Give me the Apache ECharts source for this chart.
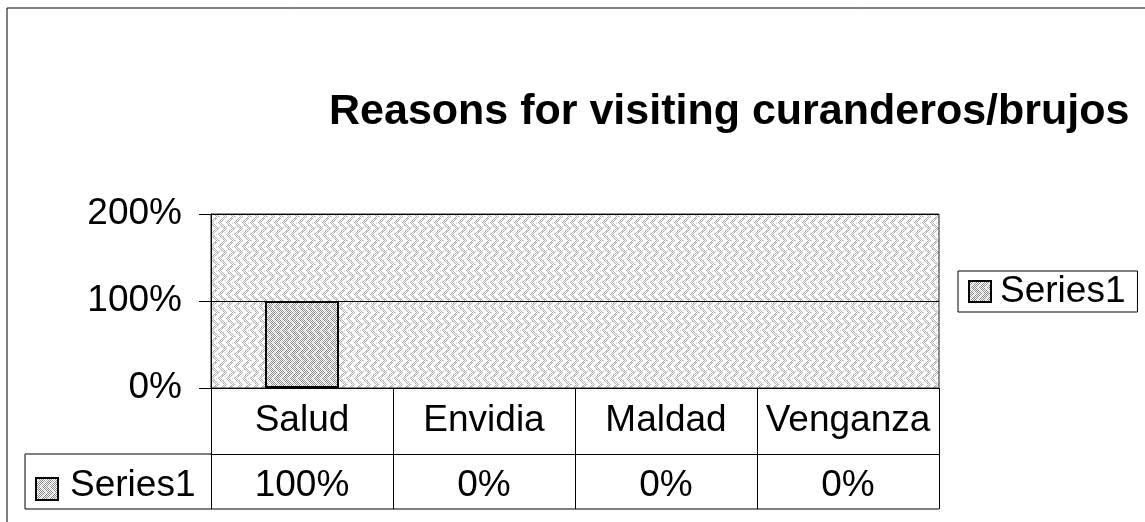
<!DOCTYPE html>
<html>
<head>
<meta charset="utf-8">
<script src="https://cdn.jsdelivr.net/npm/echarts@6/dist/echarts.min.js"></script>
<style>
html,body{margin:0;padding:0;background:#fff;}
#chart{width:1145px;height:522px;}
</style>
</head>
<body>
<div id="chart"></div>
<script>
// ---- data ----
const categories = ['Salud', 'Envidia', 'Maldad', 'Venganza'];
const series1 = [1.00, 0, 0, 0];
const seriesName = 'Series1';
const titleText = 'Reasons for visiting curanderos/brujos';
const yMin = 0, yMax = 2, yInterval = 1;

// ---- layout constants ----
const W = 1145, H = 522;
const gLeft = 211, gRight = 939, gTop = 214, gBottom = 388;
const rowH1 = 66, rowH2 = 55;
const FONT = 'Liberation Sans, Arial, sans-serif';
const LABEL_SIZE = 37;

function pct(v) { return Math.round(v * 100) + '%'; }

function makePattern(dense) {
  const c = document.createElement('canvas');
  const tw = 16, th = 24;
  c.width = tw; c.height = th;
  const ctx = c.getContext('2d');
  ctx.fillStyle = '#ffffff';
  ctx.fillRect(0, 0, tw, th);
  for (let y = 0; y < th; y++) {
    const t = y % 12;
    const shift = t < 6 ? t : 12 - t;
    for (let x = 0; x < tw; x++) {
      const xx = (x + shift) % 8;
      const inBand = dense ? (xx < 5) : (xx < 3);
      const chk = (x + y) % 2 === 0;
      if (inBand && chk) {
        ctx.fillStyle = dense ? '#8a8a8a' : '#b0b0b0';
        ctx.fillRect(x, y, 1, 1);
      } else if (dense && !inBand && chk) {
        ctx.fillStyle = '#d6d6d6';
        ctx.fillRect(x, y, 1, 1);
      } else if (!dense && ((x * 7 + y * 3) % 11 === 0)) {
        ctx.fillStyle = '#cccccc';
        ctx.fillRect(x, y, 1, 1);
      }
    }
  }
  return c;
}
const bgPattern = { image: makePattern(false), repeat: 'repeat' };
const barPattern = { image: makePattern(true), repeat: 'repeat' };

const chart = echarts.init(document.getElementById('chart'), null, { renderer: 'canvas' });

const option = {
  animation: false,
  backgroundColor: '#ffffff',
  textStyle: { fontFamily: FONT },
  title: {
    text: titleText,
    left: 324,
    top: 86,
    textStyle: { fontFamily: FONT, fontSize: 43, fontWeight: 'bold', color: '#000' }
  },
  legend: {
    data: [seriesName],
    orient: 'vertical',
    left: 958,
    top: 271,
    borderColor: '#000',
    borderWidth: 1,
    padding: [2, 12, 2, 10],
    itemWidth: 22,
    itemHeight: 21,
    itemGap: 0,
    textStyle: { fontFamily: FONT, fontSize: LABEL_SIZE, color: '#000', padding: [3, 0, 0, 4] },
    icon: 'rect'
  },
  grid: {
    left: gLeft,
    top: gTop,
    width: gRight - gLeft,
    height: gBottom - gTop,
    show: true,
    backgroundColor: bgPattern,
    borderColor: '#222',
    borderWidth: 1
  },
  xAxis: [
    {
      type: 'category',
      data: categories,
      position: 'bottom',
      boundaryGap: true,
      axisLine: { show: true, lineStyle: { color: '#000', width: 1 } },
      axisTick: { show: true, interval: 0, length: rowH1 + rowH2, lineStyle: { color: '#000', width: 1 } },
      axisLabel: { interval: 0, margin: 14, fontFamily: FONT, fontSize: LABEL_SIZE, color: '#000' },
      splitLine: { show: false }
    },
    {
      type: 'category',
      data: categories,
      position: 'bottom',
      offset: rowH1,
      boundaryGap: true,
      axisLine: { show: true, lineStyle: { color: '#000', width: 1 } },
      axisTick: { show: false },
      axisLabel: {
        interval: 0, margin: 13, fontFamily: FONT, fontSize: LABEL_SIZE, color: '#000',
        formatter: function (v, i) { return pct(series1[i]); }
      },
      splitLine: { show: false }
    }
  ],
  yAxis: {
    type: 'value',
    min: yMin,
    max: yMax,
    interval: yInterval,
    axisLine: { show: true, lineStyle: { color: '#000', width: 1 } },
    axisTick: { show: true, length: 12, lineStyle: { color: '#000', width: 1 } },
    axisLabel: { margin: 29, fontFamily: FONT, fontSize: LABEL_SIZE, color: '#000', formatter: pct },
    splitLine: { show: true, lineStyle: { color: '#000', width: 1 } }
  },
  series: [
    {
      name: seriesName,
      type: 'bar',
      xAxisIndex: 0,
      data: series1.map(function (v) {
        return v === 0 ? { value: v, itemStyle: { borderWidth: 0 } } : v;
      }),
      barWidth: 74,
      itemStyle: { color: barPattern, borderColor: '#000', borderWidth: 2 },
      emphasis: { disabled: true }
    }
  ],
  graphic: [
    // outer chart frame (top and left edges)
    { type: 'line', shape: { x1: 7, y1: 8, x2: W, y2: 8 }, style: { stroke: '#000', lineWidth: 1 } },
    { type: 'line', shape: { x1: 7, y1: 8, x2: 7, y2: H }, style: { stroke: '#000', lineWidth: 1 } },
    // data table frame
    { type: 'line', shape: { x1: 25, y1: gBottom + rowH1, x2: gLeft, y2: gBottom + rowH1 }, style: { stroke: '#000', lineWidth: 1 } },
    { type: 'line', shape: { x1: 25, y1: gBottom + rowH1 + rowH2, x2: gRight, y2: gBottom + rowH1 + rowH2 }, style: { stroke: '#000', lineWidth: 1 } },
    { type: 'line', shape: { x1: 25, y1: gBottom + rowH1, x2: 25, y2: gBottom + rowH1 + rowH2 }, style: { stroke: '#000', lineWidth: 1 } },
    // legend key in data table
    { type: 'rect', shape: { x: 36, y: 478, width: 22, height: 22 }, style: { fill: barPattern, stroke: '#000', lineWidth: 2 } },
    { type: 'text', left: 70, top: 467, style: { text: seriesName, font: LABEL_SIZE + 'px ' + FONT, fill: '#000' } }
  ]
};
chart.setOption(option);
</script>
</body>
</html>
